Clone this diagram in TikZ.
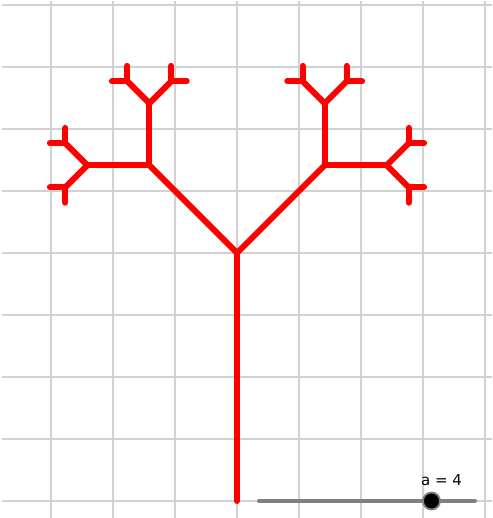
\documentclass[tikz,border=0pt]{standalone}
\usepackage{fontspec}
\newfontfamily\slfont{DejaVu Sans}
\newcommand\fracbranch[3]{%
  \draw[treeline] (0,0) -- (#2:#3);
  \ifnum#1>0
    \begin{scope}[shift={(#2:#3)}]
      \pgfmathsetmacro\fbLen{#3/2}%
      \pgfmathsetmacro\fbA{#2+45}%
      \pgfmathsetmacro\fbB{#2-45}%
      \edef\fbTmp{\noexpand\fracbranch{\the\numexpr#1-1\relax}{\fbA}{\fbLen}\noexpand\fracbranch{\the\numexpr#1-1\relax}{\fbB}{\fbLen}}%
      \fbTmp
    \end{scope}
  \fi}
\begin{document}
\begin{tikzpicture}[x=1pt,y=1pt,
  gridline/.style={draw=black!18,line width=1.3pt},
  treeline/.style={draw=red,line width=6pt,line cap=round,line join=round},
  sliderline/.style={draw=black!50,line width=4pt,line cap=round}]
\useasboundingbox (0,0) rectangle (492,518);
\fill[white] (0,0) rectangle (492,518);
% grid
\foreach \gx in {51,113,...,485} \draw[gridline] (\gx,0) -- (\gx,517);
\foreach \gy in {17,79,...,513} \draw[gridline] (2,\gy) -- (492,\gy);
% tree
\coordinate (base) at (237,17);
\coordinate (fork) at (237,265);
\draw[treeline] (base) -- (fork);
\begin{scope}[shift={(fork)}]
  \fracbranch{3}{135}{124}
  \fracbranch{3}{45}{124}
\end{scope}
% slider
\coordinate (sA) at (259,17);
\coordinate (sB) at (475,17);
\draw[sliderline] (sA) -- (sB);
\node[circle,fill=black,draw=black!50,line width=1.8pt,minimum size=17pt,inner sep=0pt] (knob) at (431.5,17) {};
\node[font=\slfont\fontsize{15}{17}\selectfont,anchor=center] (lbl) at (441.5,38) {a = 4};
\end{tikzpicture}
\end{document}
